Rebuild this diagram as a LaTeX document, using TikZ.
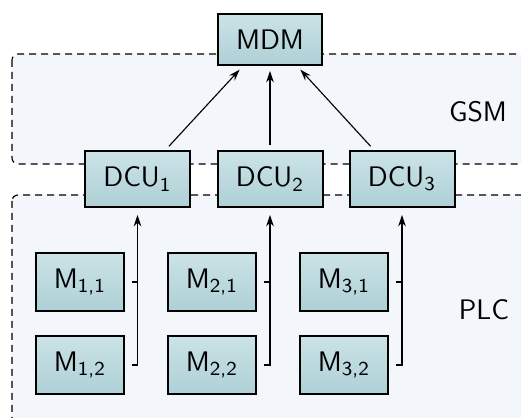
\documentclass[tikz,border=0pt]{standalone}
\usepackage{tikz}
\usetikzlibrary{arrows.meta,positioning,calc}

\begin{document}
\begin{tikzpicture}[x=0.4pt, y=-0.4pt, every node/.style={font=\fontsize{11.3}{13}\selectfont\sffamily},
        unit/.style={draw=black, line width=0.8pt, top color=unittop, bottom color=unitbot, inner sep=0pt},
        meter/.style={unit, minimum width=35.2pt, minimum height=23.2pt},
        dcu/.style={unit, minimum width=42pt, minimum height=22.4pt},
        zone/.style={draw=black, fill=zonefill, line width=0.45pt, dash pattern=on 2.8pt off 2pt, rounded corners=2.4pt},
        link/.style={-{Stealth[length=4.5pt, width=3pt]}, line width=0.45pt, shorten <=2pt, shorten >=2pt}]
        \definecolor{unittop}{RGB}{203,227,231}
        \definecolor{unitbot}{RGB}{174,208,214}
        \definecolor{zonefill}{RGB}{243,246,251}

        \path[use as bounding box] (0,0) rectangle (521,418);
        \clip (0,0) rectangle (521,418);

        % Network zones
        \draw[zone] (12,54) rectangle (545,164);
        \draw[zone] (12,195) rectangle (545,440);
        \node (gsm) at (478,112) {GSM};
        \node (plc) at (484,310) {PLC};

        % Head end
        \node[unit, minimum width=41.6pt, minimum height=20.4pt] (mdm) at (270,39.5) {MDM};

        % Data concentrators
        \node[dcu] (dcu1) at (137.5,179) {DCU\textsubscript{1}};
        \node[dcu] (dcu2) at (270,179) {DCU\textsubscript{2}};
        \node[dcu] (dcu3) at (402,179) {DCU\textsubscript{3}};

        % Meters
        \node[meter] (m11) at (80,282) {M\textsubscript{1,1}};
        \node[meter] (m12) at (80,365) {M\textsubscript{1,2}};
        \node[meter] (m21) at (212,282) {M\textsubscript{2,1}};
        \node[meter] (m22) at (212,365) {M\textsubscript{2,2}};
        \node[meter] (m31) at (344,282) {M\textsubscript{3,1}};
        \node[meter] (m32) at (344,365) {M\textsubscript{3,2}};

        % DCU to MDM
        \draw[link] ($(dcu1.north)+(28,0)$) -- ($(mdm.south)+(-27,0)$);
        \draw[link] (dcu2.north) -- (mdm.south);
        \draw[link] ($(dcu3.north)+(-28,0)$) -- ($(mdm.south)+(27,0)$);

        % Meters to DCUs
        \draw[link, shorten <=2.8pt, shorten >=2.8pt] (m12.east) -| (dcu1.south);
        \draw[link, shorten <=2.8pt, shorten >=2.8pt] (m22.east) -| (dcu2.south);
        \draw[link, shorten <=2.8pt, shorten >=2.8pt] (m32.east) -| (dcu3.south);
        \draw[line width=0.45pt, shorten <=2.8pt] (m11.east) -- (m11.east -| dcu1.south);
        \draw[line width=0.45pt, shorten <=2.8pt] (m21.east) -- (m21.east -| dcu2.south);
        \draw[line width=0.45pt, shorten <=2.8pt] (m31.east) -- (m31.east -| dcu3.south);
\end{tikzpicture}
\end{document}
